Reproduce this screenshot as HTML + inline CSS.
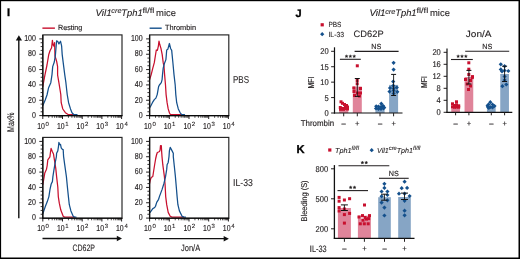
<!DOCTYPE html>
<html><head><meta charset="utf-8"><style>
html,body{margin:0;padding:0;background:#fff;}
body{width:520px;height:259px;overflow:hidden;}
svg{display:block;font-family:"Liberation Sans", sans-serif;will-change:transform;text-rendering:geometricPrecision;font-variant-ligatures:none;} text{stroke:#231f20;stroke-width:0.15px;} .lt{stroke-width:0.1px;} .nt{stroke-width:0;} .pl{stroke:#000;stroke-width:0.35px;}
</style></head><body>
<svg width="520" height="259" viewBox="0 0 520 259" xmlns="http://www.w3.org/2000/svg">
<rect width="520" height="259" fill="#fff"/>
<rect x="0" y="0" width="520" height="1.2" fill="#000"/>
<rect x="0" y="0" width="1.1" height="259" fill="#000"/>
<rect x="518.5" y="0" width="1.5" height="259" fill="#000"/>
<rect x="0" y="257.5" width="520" height="1.5" fill="#000"/>
<text x="7.10" y="15.90" font-size="11.0" fill="#000" class="pl" font-weight="bold">I</text>
<text x="295.50" y="16.80" font-size="11.0" fill="#000" class="pl" font-weight="bold">J</text>
<text x="296.60" y="152.60" font-size="11.2" fill="#000" class="pl" font-weight="bold">K</text>
<text x="95.50" y="16.00" font-size="9.3" fill="#231f20" class="lt" textLength="16.2" lengthAdjust="spacingAndGlyphs" font-style="italic">Vil1</text>
<text x="111.30" y="13.10" font-size="7.0" fill="#231f20" class="lt" textLength="10.2" lengthAdjust="spacingAndGlyphs" font-style="italic">cre</text>
<text x="121.30" y="16.00" font-size="9.3" fill="#231f20" class="lt" textLength="21.4" lengthAdjust="spacingAndGlyphs" font-style="italic">Tph1</text>
<text x="142.50" y="12.70" font-size="7.6" fill="#231f20" class="lt" textLength="11.9" lengthAdjust="spacingAndGlyphs">fl/fl</text>
<text x="156.10" y="16.00" font-size="9.3" fill="#231f20" class="lt" textLength="19.9" lengthAdjust="spacingAndGlyphs">mice</text>
<text x="369.40" y="16.40" font-size="9.3" fill="#231f20" class="lt" textLength="16.2" lengthAdjust="spacingAndGlyphs" font-style="italic">Vil1</text>
<text x="385.20" y="13.50" font-size="7.0" fill="#231f20" class="lt" textLength="10.2" lengthAdjust="spacingAndGlyphs" font-style="italic">cre</text>
<text x="395.20" y="16.40" font-size="9.3" fill="#231f20" class="lt" textLength="21.4" lengthAdjust="spacingAndGlyphs" font-style="italic">Tph1</text>
<text x="416.40" y="13.10" font-size="7.6" fill="#231f20" class="lt" textLength="11.9" lengthAdjust="spacingAndGlyphs">fl/fl</text>
<text x="430.00" y="16.40" font-size="9.3" fill="#231f20" class="lt" textLength="19.9" lengthAdjust="spacingAndGlyphs">mice</text>
<line x1="42.40" y1="28.15" x2="54.90" y2="28.15" stroke="#c8102e" stroke-width="1.4"/>
<text x="58.00" y="30.00" font-size="7.4" fill="#231f20" textLength="24.3" lengthAdjust="spacingAndGlyphs">Resting</text>
<line x1="149.60" y1="28.20" x2="161.70" y2="28.20" stroke="#14508c" stroke-width="1.4"/>
<text x="164.90" y="30.00" font-size="7.4" fill="#231f20" textLength="31.1" lengthAdjust="spacingAndGlyphs">Thrombin</text>
<polyline points="42.80,86.50 44.00,80.00 45.00,74.60 47.00,65.00 48.70,54.80 50.00,50.80 51.60,47.70 52.40,40.40 53.10,45.00 53.90,46.20 54.60,42.70 55.00,56.00 56.60,61.20 57.60,66.60 57.60,75.00 58.90,82.70 60.80,94.50 61.20,102.70 62.80,109.00 65.40,112.70 68.50,114.70 70.50,114.60 75.00,114.60" fill="none" stroke="#c8102e" stroke-width="1.25" stroke-linejoin="round" stroke-linecap="round"/>
<polyline points="42.80,105.50 45.20,100.00 47.00,95.00 48.50,88.10 50.80,82.70 52.00,74.60 52.70,66.60 54.30,62.00 55.40,55.00 56.60,40.80 57.80,41.60 58.90,43.90 60.50,41.20 61.60,45.80 62.20,54.60 63.20,62.70 64.70,74.30 65.90,82.70 67.20,94.50 68.60,102.70 70.50,108.90 72.00,112.70 73.90,114.70 75.50,114.60 77.00,114.70" fill="none" stroke="#14508c" stroke-width="1.25" stroke-linejoin="round" stroke-linecap="round"/>
<rect x="42.80" y="34.90" width="79.2" height="80.70" fill="none" stroke="#222" stroke-width="1.15"/>
<line x1="39.30" y1="115.60" x2="42.80" y2="115.60" stroke="#231f20" stroke-width="1.0"/>
<text x="35.90" y="117.85" font-size="8.6" fill="#231f20" text-anchor="end" textLength="3.92" lengthAdjust="spacingAndGlyphs">0</text>
<line x1="40.60" y1="111.77" x2="42.80" y2="111.77" stroke="#231f20" stroke-width="0.9"/>
<line x1="40.60" y1="107.93" x2="42.80" y2="107.93" stroke="#231f20" stroke-width="0.9"/>
<line x1="40.60" y1="104.09" x2="42.80" y2="104.09" stroke="#231f20" stroke-width="0.9"/>
<line x1="39.30" y1="100.26" x2="42.80" y2="100.26" stroke="#231f20" stroke-width="1.0"/>
<text x="35.90" y="102.51" font-size="8.6" fill="#231f20" text-anchor="end" textLength="7.84" lengthAdjust="spacingAndGlyphs">20</text>
<line x1="40.60" y1="96.42" x2="42.80" y2="96.42" stroke="#231f20" stroke-width="0.9"/>
<line x1="40.60" y1="92.59" x2="42.80" y2="92.59" stroke="#231f20" stroke-width="0.9"/>
<line x1="40.60" y1="88.75" x2="42.80" y2="88.75" stroke="#231f20" stroke-width="0.9"/>
<line x1="39.30" y1="84.92" x2="42.80" y2="84.92" stroke="#231f20" stroke-width="1.0"/>
<text x="35.90" y="87.17" font-size="8.6" fill="#231f20" text-anchor="end" textLength="7.84" lengthAdjust="spacingAndGlyphs">40</text>
<line x1="40.60" y1="81.08" x2="42.80" y2="81.08" stroke="#231f20" stroke-width="0.9"/>
<line x1="40.60" y1="77.25" x2="42.80" y2="77.25" stroke="#231f20" stroke-width="0.9"/>
<line x1="40.60" y1="73.41" x2="42.80" y2="73.41" stroke="#231f20" stroke-width="0.9"/>
<line x1="39.30" y1="69.58" x2="42.80" y2="69.58" stroke="#231f20" stroke-width="1.0"/>
<text x="35.90" y="71.83" font-size="8.6" fill="#231f20" text-anchor="end" textLength="7.84" lengthAdjust="spacingAndGlyphs">60</text>
<line x1="40.60" y1="65.74" x2="42.80" y2="65.74" stroke="#231f20" stroke-width="0.9"/>
<line x1="40.60" y1="61.91" x2="42.80" y2="61.91" stroke="#231f20" stroke-width="0.9"/>
<line x1="40.60" y1="58.07" x2="42.80" y2="58.07" stroke="#231f20" stroke-width="0.9"/>
<line x1="39.30" y1="54.24" x2="42.80" y2="54.24" stroke="#231f20" stroke-width="1.0"/>
<text x="35.90" y="56.49" font-size="8.6" fill="#231f20" text-anchor="end" textLength="7.84" lengthAdjust="spacingAndGlyphs">80</text>
<line x1="40.60" y1="50.40" x2="42.80" y2="50.40" stroke="#231f20" stroke-width="0.9"/>
<line x1="40.60" y1="46.57" x2="42.80" y2="46.57" stroke="#231f20" stroke-width="0.9"/>
<line x1="40.60" y1="42.73" x2="42.80" y2="42.73" stroke="#231f20" stroke-width="0.9"/>
<line x1="39.30" y1="38.90" x2="42.80" y2="38.90" stroke="#231f20" stroke-width="1.0"/>
<text x="35.90" y="41.15" font-size="8.6" fill="#231f20" text-anchor="end" textLength="11.76" lengthAdjust="spacingAndGlyphs">100</text>
<line x1="42.80" y1="115.60" x2="42.80" y2="119.00" stroke="#231f20" stroke-width="1.0"/>
<line x1="48.73" y1="115.60" x2="48.73" y2="117.80" stroke="#231f20" stroke-width="0.8"/>
<line x1="52.20" y1="115.60" x2="52.20" y2="117.80" stroke="#231f20" stroke-width="0.8"/>
<line x1="54.66" y1="115.60" x2="54.66" y2="117.80" stroke="#231f20" stroke-width="0.8"/>
<line x1="56.57" y1="115.60" x2="56.57" y2="117.80" stroke="#231f20" stroke-width="0.8"/>
<line x1="58.13" y1="115.60" x2="58.13" y2="117.80" stroke="#231f20" stroke-width="0.8"/>
<line x1="59.45" y1="115.60" x2="59.45" y2="117.80" stroke="#231f20" stroke-width="0.8"/>
<line x1="60.59" y1="115.60" x2="60.59" y2="117.80" stroke="#231f20" stroke-width="0.8"/>
<line x1="61.60" y1="115.60" x2="61.60" y2="117.80" stroke="#231f20" stroke-width="0.8"/>
<text x="37.20" y="128.80" font-size="8.6" fill="#231f20" textLength="7.7" lengthAdjust="spacingAndGlyphs">10</text>
<text x="45.60" y="125.50" font-size="6.0" fill="#231f20" class="lt">0</text>
<line x1="62.50" y1="115.60" x2="62.50" y2="119.00" stroke="#231f20" stroke-width="1.0"/>
<line x1="68.43" y1="115.60" x2="68.43" y2="117.80" stroke="#231f20" stroke-width="0.8"/>
<line x1="71.90" y1="115.60" x2="71.90" y2="117.80" stroke="#231f20" stroke-width="0.8"/>
<line x1="74.36" y1="115.60" x2="74.36" y2="117.80" stroke="#231f20" stroke-width="0.8"/>
<line x1="76.27" y1="115.60" x2="76.27" y2="117.80" stroke="#231f20" stroke-width="0.8"/>
<line x1="77.83" y1="115.60" x2="77.83" y2="117.80" stroke="#231f20" stroke-width="0.8"/>
<line x1="79.15" y1="115.60" x2="79.15" y2="117.80" stroke="#231f20" stroke-width="0.8"/>
<line x1="80.29" y1="115.60" x2="80.29" y2="117.80" stroke="#231f20" stroke-width="0.8"/>
<line x1="81.30" y1="115.60" x2="81.30" y2="117.80" stroke="#231f20" stroke-width="0.8"/>
<text x="56.90" y="128.80" font-size="8.6" fill="#231f20" textLength="7.7" lengthAdjust="spacingAndGlyphs">10</text>
<text x="65.30" y="125.50" font-size="6.0" fill="#231f20" class="lt">1</text>
<line x1="82.20" y1="115.60" x2="82.20" y2="119.00" stroke="#231f20" stroke-width="1.0"/>
<line x1="88.13" y1="115.60" x2="88.13" y2="117.80" stroke="#231f20" stroke-width="0.8"/>
<line x1="91.60" y1="115.60" x2="91.60" y2="117.80" stroke="#231f20" stroke-width="0.8"/>
<line x1="94.06" y1="115.60" x2="94.06" y2="117.80" stroke="#231f20" stroke-width="0.8"/>
<line x1="95.97" y1="115.60" x2="95.97" y2="117.80" stroke="#231f20" stroke-width="0.8"/>
<line x1="97.53" y1="115.60" x2="97.53" y2="117.80" stroke="#231f20" stroke-width="0.8"/>
<line x1="98.85" y1="115.60" x2="98.85" y2="117.80" stroke="#231f20" stroke-width="0.8"/>
<line x1="99.99" y1="115.60" x2="99.99" y2="117.80" stroke="#231f20" stroke-width="0.8"/>
<line x1="101.00" y1="115.60" x2="101.00" y2="117.80" stroke="#231f20" stroke-width="0.8"/>
<text x="76.60" y="128.80" font-size="8.6" fill="#231f20" textLength="7.7" lengthAdjust="spacingAndGlyphs">10</text>
<text x="85.00" y="125.50" font-size="6.0" fill="#231f20" class="lt">2</text>
<line x1="101.90" y1="115.60" x2="101.90" y2="119.00" stroke="#231f20" stroke-width="1.0"/>
<line x1="107.83" y1="115.60" x2="107.83" y2="117.80" stroke="#231f20" stroke-width="0.8"/>
<line x1="111.30" y1="115.60" x2="111.30" y2="117.80" stroke="#231f20" stroke-width="0.8"/>
<line x1="113.76" y1="115.60" x2="113.76" y2="117.80" stroke="#231f20" stroke-width="0.8"/>
<line x1="115.67" y1="115.60" x2="115.67" y2="117.80" stroke="#231f20" stroke-width="0.8"/>
<line x1="117.23" y1="115.60" x2="117.23" y2="117.80" stroke="#231f20" stroke-width="0.8"/>
<line x1="118.55" y1="115.60" x2="118.55" y2="117.80" stroke="#231f20" stroke-width="0.8"/>
<line x1="119.69" y1="115.60" x2="119.69" y2="117.80" stroke="#231f20" stroke-width="0.8"/>
<line x1="120.70" y1="115.60" x2="120.70" y2="117.80" stroke="#231f20" stroke-width="0.8"/>
<text x="96.30" y="128.80" font-size="8.6" fill="#231f20" textLength="7.7" lengthAdjust="spacingAndGlyphs">10</text>
<text x="104.70" y="125.50" font-size="6.0" fill="#231f20" class="lt">3</text>
<line x1="121.60" y1="115.60" x2="121.60" y2="119.00" stroke="#231f20" stroke-width="1.0"/>
<text x="116.00" y="128.80" font-size="8.6" fill="#231f20" textLength="7.7" lengthAdjust="spacingAndGlyphs">10</text>
<text x="124.40" y="125.50" font-size="6.0" fill="#231f20" class="lt">4</text>
<line x1="42.80" y1="34.90" x2="42.80" y2="116.10" stroke="#111" stroke-width="1.3"/>
<line x1="42.30" y1="115.80" x2="122.50" y2="115.80" stroke="#000" stroke-width="1.1"/>
<polyline points="149.60,79.50 151.20,74.60 152.80,68.10 154.30,62.70 155.50,55.00 156.30,50.00 157.40,50.40 158.40,45.80 159.00,41.20 159.70,44.30 160.90,48.10 162.20,54.60 163.20,62.70 164.00,66.60 164.60,74.60 165.50,85.00 166.10,94.60 167.10,102.70 168.20,108.90 169.50,113.00 170.50,114.70 172.00,114.60 182.50,114.60" fill="none" stroke="#c8102e" stroke-width="1.25" stroke-linejoin="round" stroke-linecap="round"/>
<polyline points="149.60,107.60 150.50,106.60 152.40,102.70 154.30,99.60 155.90,98.10 157.20,94.60 158.60,86.60 159.40,85.00 161.30,82.70 162.10,79.60 162.50,74.60 163.20,68.10 164.40,63.50 165.90,59.60 166.30,55.00 166.70,50.00 167.80,49.30 169.40,43.50 170.60,48.50 171.70,50.40 172.10,54.60 172.90,62.70 174.00,74.60 175.20,85.00 175.80,94.60 176.70,102.70 178.30,108.90 180.20,112.80 181.70,114.70 183.00,114.60 184.50,114.70" fill="none" stroke="#14508c" stroke-width="1.25" stroke-linejoin="round" stroke-linecap="round"/>
<rect x="149.60" y="34.90" width="79.2" height="80.70" fill="none" stroke="#222" stroke-width="1.15"/>
<line x1="146.10" y1="115.60" x2="149.60" y2="115.60" stroke="#231f20" stroke-width="1.0"/>
<text x="142.70" y="117.85" font-size="8.6" fill="#231f20" text-anchor="end" textLength="3.92" lengthAdjust="spacingAndGlyphs">0</text>
<line x1="147.40" y1="111.77" x2="149.60" y2="111.77" stroke="#231f20" stroke-width="0.9"/>
<line x1="147.40" y1="107.93" x2="149.60" y2="107.93" stroke="#231f20" stroke-width="0.9"/>
<line x1="147.40" y1="104.09" x2="149.60" y2="104.09" stroke="#231f20" stroke-width="0.9"/>
<line x1="146.10" y1="100.26" x2="149.60" y2="100.26" stroke="#231f20" stroke-width="1.0"/>
<text x="142.70" y="102.51" font-size="8.6" fill="#231f20" text-anchor="end" textLength="7.84" lengthAdjust="spacingAndGlyphs">20</text>
<line x1="147.40" y1="96.42" x2="149.60" y2="96.42" stroke="#231f20" stroke-width="0.9"/>
<line x1="147.40" y1="92.59" x2="149.60" y2="92.59" stroke="#231f20" stroke-width="0.9"/>
<line x1="147.40" y1="88.75" x2="149.60" y2="88.75" stroke="#231f20" stroke-width="0.9"/>
<line x1="146.10" y1="84.92" x2="149.60" y2="84.92" stroke="#231f20" stroke-width="1.0"/>
<text x="142.70" y="87.17" font-size="8.6" fill="#231f20" text-anchor="end" textLength="7.84" lengthAdjust="spacingAndGlyphs">40</text>
<line x1="147.40" y1="81.08" x2="149.60" y2="81.08" stroke="#231f20" stroke-width="0.9"/>
<line x1="147.40" y1="77.25" x2="149.60" y2="77.25" stroke="#231f20" stroke-width="0.9"/>
<line x1="147.40" y1="73.41" x2="149.60" y2="73.41" stroke="#231f20" stroke-width="0.9"/>
<line x1="146.10" y1="69.58" x2="149.60" y2="69.58" stroke="#231f20" stroke-width="1.0"/>
<text x="142.70" y="71.83" font-size="8.6" fill="#231f20" text-anchor="end" textLength="7.84" lengthAdjust="spacingAndGlyphs">60</text>
<line x1="147.40" y1="65.74" x2="149.60" y2="65.74" stroke="#231f20" stroke-width="0.9"/>
<line x1="147.40" y1="61.91" x2="149.60" y2="61.91" stroke="#231f20" stroke-width="0.9"/>
<line x1="147.40" y1="58.07" x2="149.60" y2="58.07" stroke="#231f20" stroke-width="0.9"/>
<line x1="146.10" y1="54.24" x2="149.60" y2="54.24" stroke="#231f20" stroke-width="1.0"/>
<text x="142.70" y="56.49" font-size="8.6" fill="#231f20" text-anchor="end" textLength="7.84" lengthAdjust="spacingAndGlyphs">80</text>
<line x1="147.40" y1="50.40" x2="149.60" y2="50.40" stroke="#231f20" stroke-width="0.9"/>
<line x1="147.40" y1="46.57" x2="149.60" y2="46.57" stroke="#231f20" stroke-width="0.9"/>
<line x1="147.40" y1="42.73" x2="149.60" y2="42.73" stroke="#231f20" stroke-width="0.9"/>
<line x1="146.10" y1="38.90" x2="149.60" y2="38.90" stroke="#231f20" stroke-width="1.0"/>
<text x="142.70" y="41.15" font-size="8.6" fill="#231f20" text-anchor="end" textLength="11.76" lengthAdjust="spacingAndGlyphs">100</text>
<line x1="149.60" y1="115.60" x2="149.60" y2="119.00" stroke="#231f20" stroke-width="1.0"/>
<line x1="155.53" y1="115.60" x2="155.53" y2="117.80" stroke="#231f20" stroke-width="0.8"/>
<line x1="159.00" y1="115.60" x2="159.00" y2="117.80" stroke="#231f20" stroke-width="0.8"/>
<line x1="161.46" y1="115.60" x2="161.46" y2="117.80" stroke="#231f20" stroke-width="0.8"/>
<line x1="163.37" y1="115.60" x2="163.37" y2="117.80" stroke="#231f20" stroke-width="0.8"/>
<line x1="164.93" y1="115.60" x2="164.93" y2="117.80" stroke="#231f20" stroke-width="0.8"/>
<line x1="166.25" y1="115.60" x2="166.25" y2="117.80" stroke="#231f20" stroke-width="0.8"/>
<line x1="167.39" y1="115.60" x2="167.39" y2="117.80" stroke="#231f20" stroke-width="0.8"/>
<line x1="168.40" y1="115.60" x2="168.40" y2="117.80" stroke="#231f20" stroke-width="0.8"/>
<text x="144.00" y="128.80" font-size="8.6" fill="#231f20" textLength="7.7" lengthAdjust="spacingAndGlyphs">10</text>
<text x="152.40" y="125.50" font-size="6.0" fill="#231f20" class="lt">0</text>
<line x1="169.30" y1="115.60" x2="169.30" y2="119.00" stroke="#231f20" stroke-width="1.0"/>
<line x1="175.23" y1="115.60" x2="175.23" y2="117.80" stroke="#231f20" stroke-width="0.8"/>
<line x1="178.70" y1="115.60" x2="178.70" y2="117.80" stroke="#231f20" stroke-width="0.8"/>
<line x1="181.16" y1="115.60" x2="181.16" y2="117.80" stroke="#231f20" stroke-width="0.8"/>
<line x1="183.07" y1="115.60" x2="183.07" y2="117.80" stroke="#231f20" stroke-width="0.8"/>
<line x1="184.63" y1="115.60" x2="184.63" y2="117.80" stroke="#231f20" stroke-width="0.8"/>
<line x1="185.95" y1="115.60" x2="185.95" y2="117.80" stroke="#231f20" stroke-width="0.8"/>
<line x1="187.09" y1="115.60" x2="187.09" y2="117.80" stroke="#231f20" stroke-width="0.8"/>
<line x1="188.10" y1="115.60" x2="188.10" y2="117.80" stroke="#231f20" stroke-width="0.8"/>
<text x="163.70" y="128.80" font-size="8.6" fill="#231f20" textLength="7.7" lengthAdjust="spacingAndGlyphs">10</text>
<text x="172.10" y="125.50" font-size="6.0" fill="#231f20" class="lt">1</text>
<line x1="189.00" y1="115.60" x2="189.00" y2="119.00" stroke="#231f20" stroke-width="1.0"/>
<line x1="194.93" y1="115.60" x2="194.93" y2="117.80" stroke="#231f20" stroke-width="0.8"/>
<line x1="198.40" y1="115.60" x2="198.40" y2="117.80" stroke="#231f20" stroke-width="0.8"/>
<line x1="200.86" y1="115.60" x2="200.86" y2="117.80" stroke="#231f20" stroke-width="0.8"/>
<line x1="202.77" y1="115.60" x2="202.77" y2="117.80" stroke="#231f20" stroke-width="0.8"/>
<line x1="204.33" y1="115.60" x2="204.33" y2="117.80" stroke="#231f20" stroke-width="0.8"/>
<line x1="205.65" y1="115.60" x2="205.65" y2="117.80" stroke="#231f20" stroke-width="0.8"/>
<line x1="206.79" y1="115.60" x2="206.79" y2="117.80" stroke="#231f20" stroke-width="0.8"/>
<line x1="207.80" y1="115.60" x2="207.80" y2="117.80" stroke="#231f20" stroke-width="0.8"/>
<text x="183.40" y="128.80" font-size="8.6" fill="#231f20" textLength="7.7" lengthAdjust="spacingAndGlyphs">10</text>
<text x="191.80" y="125.50" font-size="6.0" fill="#231f20" class="lt">2</text>
<line x1="208.70" y1="115.60" x2="208.70" y2="119.00" stroke="#231f20" stroke-width="1.0"/>
<line x1="214.63" y1="115.60" x2="214.63" y2="117.80" stroke="#231f20" stroke-width="0.8"/>
<line x1="218.10" y1="115.60" x2="218.10" y2="117.80" stroke="#231f20" stroke-width="0.8"/>
<line x1="220.56" y1="115.60" x2="220.56" y2="117.80" stroke="#231f20" stroke-width="0.8"/>
<line x1="222.47" y1="115.60" x2="222.47" y2="117.80" stroke="#231f20" stroke-width="0.8"/>
<line x1="224.03" y1="115.60" x2="224.03" y2="117.80" stroke="#231f20" stroke-width="0.8"/>
<line x1="225.35" y1="115.60" x2="225.35" y2="117.80" stroke="#231f20" stroke-width="0.8"/>
<line x1="226.49" y1="115.60" x2="226.49" y2="117.80" stroke="#231f20" stroke-width="0.8"/>
<line x1="227.50" y1="115.60" x2="227.50" y2="117.80" stroke="#231f20" stroke-width="0.8"/>
<text x="203.10" y="128.80" font-size="8.6" fill="#231f20" textLength="7.7" lengthAdjust="spacingAndGlyphs">10</text>
<text x="211.50" y="125.50" font-size="6.0" fill="#231f20" class="lt">3</text>
<line x1="228.40" y1="115.60" x2="228.40" y2="119.00" stroke="#231f20" stroke-width="1.0"/>
<text x="222.80" y="128.80" font-size="8.6" fill="#231f20" textLength="7.7" lengthAdjust="spacingAndGlyphs">10</text>
<text x="231.20" y="125.50" font-size="6.0" fill="#231f20" class="lt">4</text>
<line x1="149.60" y1="34.90" x2="149.60" y2="116.10" stroke="#111" stroke-width="1.3"/>
<line x1="149.10" y1="115.80" x2="229.30" y2="115.80" stroke="#000" stroke-width="1.1"/>
<polyline points="42.80,184.50 43.80,179.00 44.80,173.00 46.50,169.20 47.20,165.50 47.80,159.80 49.00,158.20 49.90,156.80 50.50,152.00 51.10,148.40 52.40,151.70 53.50,154.00 53.90,156.60 54.70,161.60 55.80,168.60 56.60,176.60 57.80,187.00 58.30,196.60 59.30,203.20 60.80,210.10 63.20,216.30 64.50,217.10 74.00,217.10" fill="none" stroke="#c8102e" stroke-width="1.25" stroke-linejoin="round" stroke-linecap="round"/>
<polyline points="42.80,213.80 44.00,210.30 45.40,206.30 47.30,201.60 48.90,196.60 50.00,189.40 51.20,184.00 52.40,181.60 52.90,176.60 53.90,170.10 55.10,163.20 56.40,156.60 56.60,153.20 57.80,150.90 58.50,146.30 58.90,142.40 59.70,144.70 60.50,144.30 61.20,147.80 62.40,149.40 63.20,149.70 63.60,156.60 64.70,164.70 66.40,176.60 67.40,187.00 68.40,196.60 69.30,204.70 70.90,210.90 73.20,216.30 74.50,217.10 76.00,217.20" fill="none" stroke="#14508c" stroke-width="1.25" stroke-linejoin="round" stroke-linecap="round"/>
<rect x="42.80" y="137.40" width="79.2" height="80.70" fill="none" stroke="#222" stroke-width="1.15"/>
<line x1="39.30" y1="218.10" x2="42.80" y2="218.10" stroke="#231f20" stroke-width="1.0"/>
<text x="35.90" y="220.35" font-size="8.6" fill="#231f20" text-anchor="end" textLength="3.92" lengthAdjust="spacingAndGlyphs">0</text>
<line x1="40.60" y1="214.26" x2="42.80" y2="214.26" stroke="#231f20" stroke-width="0.9"/>
<line x1="40.60" y1="210.43" x2="42.80" y2="210.43" stroke="#231f20" stroke-width="0.9"/>
<line x1="40.60" y1="206.59" x2="42.80" y2="206.59" stroke="#231f20" stroke-width="0.9"/>
<line x1="39.30" y1="202.76" x2="42.80" y2="202.76" stroke="#231f20" stroke-width="1.0"/>
<text x="35.90" y="205.01" font-size="8.6" fill="#231f20" text-anchor="end" textLength="7.84" lengthAdjust="spacingAndGlyphs">20</text>
<line x1="40.60" y1="198.92" x2="42.80" y2="198.92" stroke="#231f20" stroke-width="0.9"/>
<line x1="40.60" y1="195.09" x2="42.80" y2="195.09" stroke="#231f20" stroke-width="0.9"/>
<line x1="40.60" y1="191.25" x2="42.80" y2="191.25" stroke="#231f20" stroke-width="0.9"/>
<line x1="39.30" y1="187.42" x2="42.80" y2="187.42" stroke="#231f20" stroke-width="1.0"/>
<text x="35.90" y="189.67" font-size="8.6" fill="#231f20" text-anchor="end" textLength="7.84" lengthAdjust="spacingAndGlyphs">40</text>
<line x1="40.60" y1="183.58" x2="42.80" y2="183.58" stroke="#231f20" stroke-width="0.9"/>
<line x1="40.60" y1="179.75" x2="42.80" y2="179.75" stroke="#231f20" stroke-width="0.9"/>
<line x1="40.60" y1="175.91" x2="42.80" y2="175.91" stroke="#231f20" stroke-width="0.9"/>
<line x1="39.30" y1="172.08" x2="42.80" y2="172.08" stroke="#231f20" stroke-width="1.0"/>
<text x="35.90" y="174.33" font-size="8.6" fill="#231f20" text-anchor="end" textLength="7.84" lengthAdjust="spacingAndGlyphs">60</text>
<line x1="40.60" y1="168.25" x2="42.80" y2="168.25" stroke="#231f20" stroke-width="0.9"/>
<line x1="40.60" y1="164.41" x2="42.80" y2="164.41" stroke="#231f20" stroke-width="0.9"/>
<line x1="40.60" y1="160.57" x2="42.80" y2="160.57" stroke="#231f20" stroke-width="0.9"/>
<line x1="39.30" y1="156.74" x2="42.80" y2="156.74" stroke="#231f20" stroke-width="1.0"/>
<text x="35.90" y="158.99" font-size="8.6" fill="#231f20" text-anchor="end" textLength="7.84" lengthAdjust="spacingAndGlyphs">80</text>
<line x1="40.60" y1="152.90" x2="42.80" y2="152.90" stroke="#231f20" stroke-width="0.9"/>
<line x1="40.60" y1="149.07" x2="42.80" y2="149.07" stroke="#231f20" stroke-width="0.9"/>
<line x1="40.60" y1="145.24" x2="42.80" y2="145.24" stroke="#231f20" stroke-width="0.9"/>
<line x1="39.30" y1="141.40" x2="42.80" y2="141.40" stroke="#231f20" stroke-width="1.0"/>
<text x="35.90" y="143.65" font-size="8.6" fill="#231f20" text-anchor="end" textLength="11.76" lengthAdjust="spacingAndGlyphs">100</text>
<line x1="42.80" y1="218.10" x2="42.80" y2="221.50" stroke="#231f20" stroke-width="1.0"/>
<line x1="48.73" y1="218.10" x2="48.73" y2="220.30" stroke="#231f20" stroke-width="0.8"/>
<line x1="52.20" y1="218.10" x2="52.20" y2="220.30" stroke="#231f20" stroke-width="0.8"/>
<line x1="54.66" y1="218.10" x2="54.66" y2="220.30" stroke="#231f20" stroke-width="0.8"/>
<line x1="56.57" y1="218.10" x2="56.57" y2="220.30" stroke="#231f20" stroke-width="0.8"/>
<line x1="58.13" y1="218.10" x2="58.13" y2="220.30" stroke="#231f20" stroke-width="0.8"/>
<line x1="59.45" y1="218.10" x2="59.45" y2="220.30" stroke="#231f20" stroke-width="0.8"/>
<line x1="60.59" y1="218.10" x2="60.59" y2="220.30" stroke="#231f20" stroke-width="0.8"/>
<line x1="61.60" y1="218.10" x2="61.60" y2="220.30" stroke="#231f20" stroke-width="0.8"/>
<text x="37.20" y="231.30" font-size="8.6" fill="#231f20" textLength="7.7" lengthAdjust="spacingAndGlyphs">10</text>
<text x="45.60" y="228.00" font-size="6.0" fill="#231f20" class="lt">0</text>
<line x1="62.50" y1="218.10" x2="62.50" y2="221.50" stroke="#231f20" stroke-width="1.0"/>
<line x1="68.43" y1="218.10" x2="68.43" y2="220.30" stroke="#231f20" stroke-width="0.8"/>
<line x1="71.90" y1="218.10" x2="71.90" y2="220.30" stroke="#231f20" stroke-width="0.8"/>
<line x1="74.36" y1="218.10" x2="74.36" y2="220.30" stroke="#231f20" stroke-width="0.8"/>
<line x1="76.27" y1="218.10" x2="76.27" y2="220.30" stroke="#231f20" stroke-width="0.8"/>
<line x1="77.83" y1="218.10" x2="77.83" y2="220.30" stroke="#231f20" stroke-width="0.8"/>
<line x1="79.15" y1="218.10" x2="79.15" y2="220.30" stroke="#231f20" stroke-width="0.8"/>
<line x1="80.29" y1="218.10" x2="80.29" y2="220.30" stroke="#231f20" stroke-width="0.8"/>
<line x1="81.30" y1="218.10" x2="81.30" y2="220.30" stroke="#231f20" stroke-width="0.8"/>
<text x="56.90" y="231.30" font-size="8.6" fill="#231f20" textLength="7.7" lengthAdjust="spacingAndGlyphs">10</text>
<text x="65.30" y="228.00" font-size="6.0" fill="#231f20" class="lt">1</text>
<line x1="82.20" y1="218.10" x2="82.20" y2="221.50" stroke="#231f20" stroke-width="1.0"/>
<line x1="88.13" y1="218.10" x2="88.13" y2="220.30" stroke="#231f20" stroke-width="0.8"/>
<line x1="91.60" y1="218.10" x2="91.60" y2="220.30" stroke="#231f20" stroke-width="0.8"/>
<line x1="94.06" y1="218.10" x2="94.06" y2="220.30" stroke="#231f20" stroke-width="0.8"/>
<line x1="95.97" y1="218.10" x2="95.97" y2="220.30" stroke="#231f20" stroke-width="0.8"/>
<line x1="97.53" y1="218.10" x2="97.53" y2="220.30" stroke="#231f20" stroke-width="0.8"/>
<line x1="98.85" y1="218.10" x2="98.85" y2="220.30" stroke="#231f20" stroke-width="0.8"/>
<line x1="99.99" y1="218.10" x2="99.99" y2="220.30" stroke="#231f20" stroke-width="0.8"/>
<line x1="101.00" y1="218.10" x2="101.00" y2="220.30" stroke="#231f20" stroke-width="0.8"/>
<text x="76.60" y="231.30" font-size="8.6" fill="#231f20" textLength="7.7" lengthAdjust="spacingAndGlyphs">10</text>
<text x="85.00" y="228.00" font-size="6.0" fill="#231f20" class="lt">2</text>
<line x1="101.90" y1="218.10" x2="101.90" y2="221.50" stroke="#231f20" stroke-width="1.0"/>
<line x1="107.83" y1="218.10" x2="107.83" y2="220.30" stroke="#231f20" stroke-width="0.8"/>
<line x1="111.30" y1="218.10" x2="111.30" y2="220.30" stroke="#231f20" stroke-width="0.8"/>
<line x1="113.76" y1="218.10" x2="113.76" y2="220.30" stroke="#231f20" stroke-width="0.8"/>
<line x1="115.67" y1="218.10" x2="115.67" y2="220.30" stroke="#231f20" stroke-width="0.8"/>
<line x1="117.23" y1="218.10" x2="117.23" y2="220.30" stroke="#231f20" stroke-width="0.8"/>
<line x1="118.55" y1="218.10" x2="118.55" y2="220.30" stroke="#231f20" stroke-width="0.8"/>
<line x1="119.69" y1="218.10" x2="119.69" y2="220.30" stroke="#231f20" stroke-width="0.8"/>
<line x1="120.70" y1="218.10" x2="120.70" y2="220.30" stroke="#231f20" stroke-width="0.8"/>
<text x="96.30" y="231.30" font-size="8.6" fill="#231f20" textLength="7.7" lengthAdjust="spacingAndGlyphs">10</text>
<text x="104.70" y="228.00" font-size="6.0" fill="#231f20" class="lt">3</text>
<line x1="121.60" y1="218.10" x2="121.60" y2="221.50" stroke="#231f20" stroke-width="1.0"/>
<text x="116.00" y="231.30" font-size="8.6" fill="#231f20" textLength="7.7" lengthAdjust="spacingAndGlyphs">10</text>
<text x="124.40" y="228.00" font-size="6.0" fill="#231f20" class="lt">4</text>
<line x1="42.80" y1="137.40" x2="42.80" y2="218.60" stroke="#111" stroke-width="1.3"/>
<line x1="42.30" y1="218.30" x2="122.50" y2="218.30" stroke="#000" stroke-width="1.1"/>
<polyline points="149.60,183.40 150.30,180.00 151.20,177.50 152.80,176.50 153.50,172.00 154.60,165.00 155.70,158.50 156.50,155.00 157.30,152.50 158.50,152.00 159.50,151.50 160.10,150.00 160.50,145.50 161.30,145.50 161.70,152.40 162.00,156.60 162.80,164.70 164.40,176.60 165.10,184.70 165.70,196.60 166.70,204.70 168.20,212.40 170.20,216.30 172.00,217.10 183.50,217.10" fill="none" stroke="#c8102e" stroke-width="1.25" stroke-linejoin="round" stroke-linecap="round"/>
<polyline points="149.60,212.60 150.10,212.40 151.20,210.90 152.80,208.60 154.30,207.80 155.50,206.30 156.70,202.40 158.60,199.30 159.40,196.60 162.10,189.40 164.00,183.20 165.50,176.90 166.70,169.40 167.10,164.70 168.20,162.40 169.00,156.60 169.40,150.90 170.20,147.40 170.90,148.60 172.10,150.90 173.30,153.20 173.30,156.60 174.40,167.00 175.40,176.60 176.30,187.00 177.10,196.60 177.90,204.70 179.40,210.90 182.10,216.30 184.00,217.10 185.50,217.20" fill="none" stroke="#14508c" stroke-width="1.25" stroke-linejoin="round" stroke-linecap="round"/>
<rect x="149.60" y="137.40" width="79.2" height="80.70" fill="none" stroke="#222" stroke-width="1.15"/>
<line x1="146.10" y1="218.10" x2="149.60" y2="218.10" stroke="#231f20" stroke-width="1.0"/>
<text x="142.70" y="220.35" font-size="8.6" fill="#231f20" text-anchor="end" textLength="3.92" lengthAdjust="spacingAndGlyphs">0</text>
<line x1="147.40" y1="214.26" x2="149.60" y2="214.26" stroke="#231f20" stroke-width="0.9"/>
<line x1="147.40" y1="210.43" x2="149.60" y2="210.43" stroke="#231f20" stroke-width="0.9"/>
<line x1="147.40" y1="206.59" x2="149.60" y2="206.59" stroke="#231f20" stroke-width="0.9"/>
<line x1="146.10" y1="202.76" x2="149.60" y2="202.76" stroke="#231f20" stroke-width="1.0"/>
<text x="142.70" y="205.01" font-size="8.6" fill="#231f20" text-anchor="end" textLength="7.84" lengthAdjust="spacingAndGlyphs">20</text>
<line x1="147.40" y1="198.92" x2="149.60" y2="198.92" stroke="#231f20" stroke-width="0.9"/>
<line x1="147.40" y1="195.09" x2="149.60" y2="195.09" stroke="#231f20" stroke-width="0.9"/>
<line x1="147.40" y1="191.25" x2="149.60" y2="191.25" stroke="#231f20" stroke-width="0.9"/>
<line x1="146.10" y1="187.42" x2="149.60" y2="187.42" stroke="#231f20" stroke-width="1.0"/>
<text x="142.70" y="189.67" font-size="8.6" fill="#231f20" text-anchor="end" textLength="7.84" lengthAdjust="spacingAndGlyphs">40</text>
<line x1="147.40" y1="183.58" x2="149.60" y2="183.58" stroke="#231f20" stroke-width="0.9"/>
<line x1="147.40" y1="179.75" x2="149.60" y2="179.75" stroke="#231f20" stroke-width="0.9"/>
<line x1="147.40" y1="175.91" x2="149.60" y2="175.91" stroke="#231f20" stroke-width="0.9"/>
<line x1="146.10" y1="172.08" x2="149.60" y2="172.08" stroke="#231f20" stroke-width="1.0"/>
<text x="142.70" y="174.33" font-size="8.6" fill="#231f20" text-anchor="end" textLength="7.84" lengthAdjust="spacingAndGlyphs">60</text>
<line x1="147.40" y1="168.25" x2="149.60" y2="168.25" stroke="#231f20" stroke-width="0.9"/>
<line x1="147.40" y1="164.41" x2="149.60" y2="164.41" stroke="#231f20" stroke-width="0.9"/>
<line x1="147.40" y1="160.57" x2="149.60" y2="160.57" stroke="#231f20" stroke-width="0.9"/>
<line x1="146.10" y1="156.74" x2="149.60" y2="156.74" stroke="#231f20" stroke-width="1.0"/>
<text x="142.70" y="158.99" font-size="8.6" fill="#231f20" text-anchor="end" textLength="7.84" lengthAdjust="spacingAndGlyphs">80</text>
<line x1="147.40" y1="152.90" x2="149.60" y2="152.90" stroke="#231f20" stroke-width="0.9"/>
<line x1="147.40" y1="149.07" x2="149.60" y2="149.07" stroke="#231f20" stroke-width="0.9"/>
<line x1="147.40" y1="145.24" x2="149.60" y2="145.24" stroke="#231f20" stroke-width="0.9"/>
<line x1="146.10" y1="141.40" x2="149.60" y2="141.40" stroke="#231f20" stroke-width="1.0"/>
<text x="142.70" y="143.65" font-size="8.6" fill="#231f20" text-anchor="end" textLength="11.76" lengthAdjust="spacingAndGlyphs">100</text>
<line x1="149.60" y1="218.10" x2="149.60" y2="221.50" stroke="#231f20" stroke-width="1.0"/>
<line x1="155.53" y1="218.10" x2="155.53" y2="220.30" stroke="#231f20" stroke-width="0.8"/>
<line x1="159.00" y1="218.10" x2="159.00" y2="220.30" stroke="#231f20" stroke-width="0.8"/>
<line x1="161.46" y1="218.10" x2="161.46" y2="220.30" stroke="#231f20" stroke-width="0.8"/>
<line x1="163.37" y1="218.10" x2="163.37" y2="220.30" stroke="#231f20" stroke-width="0.8"/>
<line x1="164.93" y1="218.10" x2="164.93" y2="220.30" stroke="#231f20" stroke-width="0.8"/>
<line x1="166.25" y1="218.10" x2="166.25" y2="220.30" stroke="#231f20" stroke-width="0.8"/>
<line x1="167.39" y1="218.10" x2="167.39" y2="220.30" stroke="#231f20" stroke-width="0.8"/>
<line x1="168.40" y1="218.10" x2="168.40" y2="220.30" stroke="#231f20" stroke-width="0.8"/>
<text x="144.00" y="231.30" font-size="8.6" fill="#231f20" textLength="7.7" lengthAdjust="spacingAndGlyphs">10</text>
<text x="152.40" y="228.00" font-size="6.0" fill="#231f20" class="lt">0</text>
<line x1="169.30" y1="218.10" x2="169.30" y2="221.50" stroke="#231f20" stroke-width="1.0"/>
<line x1="175.23" y1="218.10" x2="175.23" y2="220.30" stroke="#231f20" stroke-width="0.8"/>
<line x1="178.70" y1="218.10" x2="178.70" y2="220.30" stroke="#231f20" stroke-width="0.8"/>
<line x1="181.16" y1="218.10" x2="181.16" y2="220.30" stroke="#231f20" stroke-width="0.8"/>
<line x1="183.07" y1="218.10" x2="183.07" y2="220.30" stroke="#231f20" stroke-width="0.8"/>
<line x1="184.63" y1="218.10" x2="184.63" y2="220.30" stroke="#231f20" stroke-width="0.8"/>
<line x1="185.95" y1="218.10" x2="185.95" y2="220.30" stroke="#231f20" stroke-width="0.8"/>
<line x1="187.09" y1="218.10" x2="187.09" y2="220.30" stroke="#231f20" stroke-width="0.8"/>
<line x1="188.10" y1="218.10" x2="188.10" y2="220.30" stroke="#231f20" stroke-width="0.8"/>
<text x="163.70" y="231.30" font-size="8.6" fill="#231f20" textLength="7.7" lengthAdjust="spacingAndGlyphs">10</text>
<text x="172.10" y="228.00" font-size="6.0" fill="#231f20" class="lt">1</text>
<line x1="189.00" y1="218.10" x2="189.00" y2="221.50" stroke="#231f20" stroke-width="1.0"/>
<line x1="194.93" y1="218.10" x2="194.93" y2="220.30" stroke="#231f20" stroke-width="0.8"/>
<line x1="198.40" y1="218.10" x2="198.40" y2="220.30" stroke="#231f20" stroke-width="0.8"/>
<line x1="200.86" y1="218.10" x2="200.86" y2="220.30" stroke="#231f20" stroke-width="0.8"/>
<line x1="202.77" y1="218.10" x2="202.77" y2="220.30" stroke="#231f20" stroke-width="0.8"/>
<line x1="204.33" y1="218.10" x2="204.33" y2="220.30" stroke="#231f20" stroke-width="0.8"/>
<line x1="205.65" y1="218.10" x2="205.65" y2="220.30" stroke="#231f20" stroke-width="0.8"/>
<line x1="206.79" y1="218.10" x2="206.79" y2="220.30" stroke="#231f20" stroke-width="0.8"/>
<line x1="207.80" y1="218.10" x2="207.80" y2="220.30" stroke="#231f20" stroke-width="0.8"/>
<text x="183.40" y="231.30" font-size="8.6" fill="#231f20" textLength="7.7" lengthAdjust="spacingAndGlyphs">10</text>
<text x="191.80" y="228.00" font-size="6.0" fill="#231f20" class="lt">2</text>
<line x1="208.70" y1="218.10" x2="208.70" y2="221.50" stroke="#231f20" stroke-width="1.0"/>
<line x1="214.63" y1="218.10" x2="214.63" y2="220.30" stroke="#231f20" stroke-width="0.8"/>
<line x1="218.10" y1="218.10" x2="218.10" y2="220.30" stroke="#231f20" stroke-width="0.8"/>
<line x1="220.56" y1="218.10" x2="220.56" y2="220.30" stroke="#231f20" stroke-width="0.8"/>
<line x1="222.47" y1="218.10" x2="222.47" y2="220.30" stroke="#231f20" stroke-width="0.8"/>
<line x1="224.03" y1="218.10" x2="224.03" y2="220.30" stroke="#231f20" stroke-width="0.8"/>
<line x1="225.35" y1="218.10" x2="225.35" y2="220.30" stroke="#231f20" stroke-width="0.8"/>
<line x1="226.49" y1="218.10" x2="226.49" y2="220.30" stroke="#231f20" stroke-width="0.8"/>
<line x1="227.50" y1="218.10" x2="227.50" y2="220.30" stroke="#231f20" stroke-width="0.8"/>
<text x="203.10" y="231.30" font-size="8.6" fill="#231f20" textLength="7.7" lengthAdjust="spacingAndGlyphs">10</text>
<text x="211.50" y="228.00" font-size="6.0" fill="#231f20" class="lt">3</text>
<line x1="228.40" y1="218.10" x2="228.40" y2="221.50" stroke="#231f20" stroke-width="1.0"/>
<text x="222.80" y="231.30" font-size="8.6" fill="#231f20" textLength="7.7" lengthAdjust="spacingAndGlyphs">10</text>
<text x="231.20" y="228.00" font-size="6.0" fill="#231f20" class="lt">4</text>
<line x1="149.60" y1="137.40" x2="149.60" y2="218.60" stroke="#111" stroke-width="1.3"/>
<line x1="149.10" y1="218.30" x2="229.30" y2="218.30" stroke="#000" stroke-width="1.1"/>
<text x="233.00" y="83.20" font-size="10.0" fill="#231f20" class="lt" textLength="16.0" lengthAdjust="spacingAndGlyphs">PBS</text>
<text x="233.00" y="186.30" font-size="10.0" fill="#231f20" class="lt" textLength="19.8" lengthAdjust="spacingAndGlyphs">IL-33</text>
<text transform="translate(14.3,122.2) rotate(-90)" x="0" y="0" font-size="9.8" fill="#231f20" text-anchor="middle" textLength="19.6" lengthAdjust="spacingAndGlyphs">Max%</text>
<line x1="18.80" y1="218.20" x2="18.80" y2="39.50" stroke="#111" stroke-width="1.4"/>
<polygon points="18.9,35.2 15.8,40.6 22.0,40.6" fill="#111"/>
<line x1="42.50" y1="238.50" x2="118.00" y2="238.50" stroke="#111" stroke-width="1.3"/>
<polygon points="122.00,238.50 116.80,235.70 116.80,241.30" fill="#111"/>
<line x1="149.30" y1="238.70" x2="224.90" y2="238.70" stroke="#111" stroke-width="1.3"/>
<polygon points="228.90,238.70 223.70,235.90 223.70,241.50" fill="#111"/>
<text x="72.40" y="250.90" font-size="9.2" fill="#231f20" class="lt" textLength="22.6" lengthAdjust="spacingAndGlyphs">CD62P</text>
<text x="181.00" y="251.40" font-size="9.2" fill="#231f20" class="lt" textLength="19.2" lengthAdjust="spacingAndGlyphs">Jon/A</text>
<rect x="320.6" y="23.2" width="3.2" height="3.2" fill="#c8102e"/>
<text x="328.40" y="27.30" font-size="7.4" fill="#231f20" class="lt" textLength="12.9" lengthAdjust="spacingAndGlyphs">PBS</text>
<polygon points="322.2,32.1 324.3,34.2 322.2,36.3 320.1,34.2" fill="#14508c"/>
<text x="328.40" y="36.90" font-size="7.4" fill="#231f20" class="lt" textLength="15.8" lengthAdjust="spacingAndGlyphs">IL-33</text>
<text x="353.60" y="37.40" font-size="9.2" fill="#231f20" class="lt" textLength="30.0" lengthAdjust="spacingAndGlyphs">CD62P</text>
<text x="465.80" y="37.40" font-size="9.2" fill="#231f20" class="lt" textLength="25.8" lengthAdjust="spacingAndGlyphs">Jon/A</text>
<rect x="339.10" y="106.83" width="9.2" height="6.17" fill="#e0849a"/>
<rect x="352.80" y="86.50" width="9.0" height="26.50" fill="#e0849a"/>
<rect x="375.40" y="106.83" width="9.2" height="6.17" fill="#86a5c5"/>
<rect x="389.10" y="84.90" width="9.0" height="28.10" fill="#86a5c5"/>
<line x1="331.10" y1="113.00" x2="334.50" y2="113.00" stroke="#231f20" stroke-width="1.0"/>
<text x="328.60" y="116.00" font-size="8.4" fill="#231f20" text-anchor="end" textLength="4.2" lengthAdjust="spacingAndGlyphs">0</text>
<line x1="331.10" y1="97.58" x2="334.50" y2="97.58" stroke="#231f20" stroke-width="1.0"/>
<text x="328.60" y="100.58" font-size="8.4" fill="#231f20" text-anchor="end" textLength="4.2" lengthAdjust="spacingAndGlyphs">5</text>
<line x1="331.10" y1="82.15" x2="334.50" y2="82.15" stroke="#231f20" stroke-width="1.0"/>
<text x="328.60" y="85.15" font-size="8.4" fill="#231f20" text-anchor="end" textLength="8.41" lengthAdjust="spacingAndGlyphs">10</text>
<line x1="331.10" y1="66.72" x2="334.50" y2="66.72" stroke="#231f20" stroke-width="1.0"/>
<text x="328.60" y="69.72" font-size="8.4" fill="#231f20" text-anchor="end" textLength="8.41" lengthAdjust="spacingAndGlyphs">15</text>
<line x1="331.10" y1="51.30" x2="334.50" y2="51.30" stroke="#231f20" stroke-width="1.0"/>
<text x="328.60" y="54.30" font-size="8.4" fill="#231f20" text-anchor="end" textLength="8.41" lengthAdjust="spacingAndGlyphs">20</text>
<rect x="339.50" y="100.30" width="3.0" height="3.0" fill="#c8102e"/>
<rect x="341.00" y="101.80" width="3.0" height="3.0" fill="#c8102e"/>
<rect x="343.00" y="103.00" width="3.0" height="3.0" fill="#c8102e"/>
<rect x="345.00" y="104.00" width="3.0" height="3.0" fill="#c8102e"/>
<rect x="346.00" y="105.50" width="3.0" height="3.0" fill="#c8102e"/>
<rect x="338.80" y="106.00" width="3.0" height="3.0" fill="#c8102e"/>
<rect x="341.00" y="107.00" width="3.0" height="3.0" fill="#c8102e"/>
<rect x="343.50" y="107.00" width="3.0" height="3.0" fill="#c8102e"/>
<rect x="346.00" y="107.50" width="3.0" height="3.0" fill="#c8102e"/>
<rect x="339.00" y="107.80" width="3.0" height="3.0" fill="#c8102e"/>
<rect x="342.00" y="107.80" width="3.0" height="3.0" fill="#c8102e"/>
<rect x="344.00" y="105.00" width="3.0" height="3.0" fill="#c8102e"/>
<rect x="355.80" y="64.30" width="3.0" height="3.0" fill="#c8102e"/>
<rect x="355.70" y="79.00" width="3.0" height="3.0" fill="#c8102e"/>
<rect x="355.70" y="82.30" width="3.0" height="3.0" fill="#c8102e"/>
<rect x="352.30" y="86.50" width="3.0" height="3.0" fill="#c8102e"/>
<rect x="359.00" y="87.00" width="3.0" height="3.0" fill="#c8102e"/>
<rect x="352.50" y="90.00" width="3.0" height="3.0" fill="#c8102e"/>
<rect x="359.00" y="91.50" width="3.0" height="3.0" fill="#c8102e"/>
<rect x="356.00" y="91.50" width="3.0" height="3.0" fill="#c8102e"/>
<rect x="353.00" y="94.00" width="3.0" height="3.0" fill="#c8102e"/>
<rect x="358.00" y="94.50" width="3.0" height="3.0" fill="#c8102e"/>
<line x1="357.30" y1="78.50" x2="357.30" y2="96.40" stroke="#111" stroke-width="0.9"/>
<line x1="354.80" y1="78.50" x2="359.80" y2="78.50" stroke="#111" stroke-width="1.0"/>
<line x1="354.80" y1="96.40" x2="359.80" y2="96.40" stroke="#111" stroke-width="1.0"/>
<polygon points="381.30,101.60 383.40,103.70 381.30,105.80 379.20,103.70" fill="#14508c"/>
<polygon points="383.00,103.70 385.10,105.80 383.00,107.90 380.90,105.80" fill="#14508c"/>
<polygon points="376.20,104.20 378.30,106.30 376.20,108.40 374.10,106.30" fill="#14508c"/>
<polygon points="378.50,104.40 380.60,106.50 378.50,108.60 376.40,106.50" fill="#14508c"/>
<polygon points="380.80,104.90 382.90,107.00 380.80,109.10 378.70,107.00" fill="#14508c"/>
<polygon points="383.50,106.20 385.60,108.30 383.50,110.40 381.40,108.30" fill="#14508c"/>
<polygon points="376.00,106.40 378.10,108.50 376.00,110.60 373.90,108.50" fill="#14508c"/>
<polygon points="378.50,106.70 380.60,108.80 378.50,110.90 376.40,108.80" fill="#14508c"/>
<polygon points="381.00,106.70 383.10,108.80 381.00,110.90 378.90,108.80" fill="#14508c"/>
<polygon points="384.20,105.40 386.30,107.50 384.20,109.60 382.10,107.50" fill="#14508c"/>
<polygon points="393.60,60.70 395.70,62.80 393.60,64.90 391.50,62.80" fill="#14508c"/>
<polygon points="393.60,67.50 395.70,69.60 393.60,71.70 391.50,69.60" fill="#14508c"/>
<polygon points="393.20,79.50 395.30,81.60 393.20,83.70 391.10,81.60" fill="#14508c"/>
<polygon points="393.20,83.60 395.30,85.70 393.20,87.80 391.10,85.70" fill="#14508c"/>
<polygon points="390.00,85.90 392.10,88.00 390.00,90.10 387.90,88.00" fill="#14508c"/>
<polygon points="393.60,86.40 395.70,88.50 393.60,90.60 391.50,88.50" fill="#14508c"/>
<polygon points="396.80,85.40 398.90,87.50 396.80,89.60 394.70,87.50" fill="#14508c"/>
<polygon points="393.60,88.40 395.70,90.50 393.60,92.60 391.50,90.50" fill="#14508c"/>
<polygon points="389.50,89.50 391.60,91.60 389.50,93.70 387.40,91.60" fill="#14508c"/>
<polygon points="397.30,89.70 399.40,91.80 397.30,93.90 395.20,91.80" fill="#14508c"/>
<polygon points="393.60,91.40 395.70,93.50 393.60,95.60 391.50,93.50" fill="#14508c"/>
<line x1="393.60" y1="74.40" x2="393.60" y2="95.50" stroke="#111" stroke-width="0.9"/>
<line x1="391.10" y1="74.40" x2="396.10" y2="74.40" stroke="#111" stroke-width="1.0"/>
<line x1="391.10" y1="95.50" x2="396.10" y2="95.50" stroke="#111" stroke-width="1.0"/>
<line x1="334.50" y1="47.30" x2="334.50" y2="113.60" stroke="#111" stroke-width="1.2"/>
<line x1="333.90" y1="113.00" x2="402.50" y2="113.00" stroke="#111" stroke-width="1.2"/>
<line x1="343.70" y1="113.00" x2="343.70" y2="116.30" stroke="#231f20" stroke-width="1.0"/>
<line x1="357.30" y1="113.00" x2="357.30" y2="116.30" stroke="#231f20" stroke-width="1.0"/>
<line x1="380.00" y1="113.00" x2="380.00" y2="116.30" stroke="#231f20" stroke-width="1.0"/>
<line x1="393.60" y1="113.00" x2="393.60" y2="116.30" stroke="#231f20" stroke-width="1.0"/>
<line x1="339.90" y1="59.30" x2="360.80" y2="59.30" stroke="#231f20" stroke-width="1.1"/>
<polygon points="346.50,54.70 346.97,55.65 348.02,55.81 347.26,56.55 347.44,57.59 346.50,57.10 345.56,57.59 345.74,56.55 344.98,55.81 346.03,55.65" fill="#231f20" stroke="#231f20" stroke-width="0.35" stroke-linejoin="round"/>
<polygon points="350.35,54.70 350.82,55.65 351.87,55.81 351.11,56.55 351.29,57.59 350.35,57.10 349.41,57.59 349.59,56.55 348.83,55.81 349.88,55.65" fill="#231f20" stroke="#231f20" stroke-width="0.35" stroke-linejoin="round"/>
<polygon points="354.20,54.70 354.67,55.65 355.72,55.81 354.96,56.55 355.14,57.59 354.20,57.10 353.26,57.59 353.44,56.55 352.68,55.81 353.73,55.65" fill="#231f20" stroke="#231f20" stroke-width="0.35" stroke-linejoin="round"/>
<line x1="354.60" y1="51.40" x2="398.60" y2="51.40" stroke="#231f20" stroke-width="1.1"/>
<text x="376.20" y="49.30" font-size="7.4" fill="#231f20" text-anchor="middle" textLength="10.0" lengthAdjust="spacingAndGlyphs">NS</text>
<text transform="translate(313.7,82.45) rotate(-90)" font-size="8.6" fill="#231f20" text-anchor="middle" textLength="11.9" lengthAdjust="spacingAndGlyphs">MFI</text>
<text x="300.80" y="125.90" font-size="8.4" fill="#231f20" textLength="33.3" lengthAdjust="spacingAndGlyphs">Thrombin</text>
<text x="343.70" y="125.80" font-size="7.6" fill="#231f20" text-anchor="middle">–</text>
<text x="357.30" y="125.80" font-size="7.6" fill="#231f20" text-anchor="middle">+</text>
<text x="380.00" y="125.80" font-size="7.6" fill="#231f20" text-anchor="middle">–</text>
<text x="393.60" y="125.80" font-size="7.6" fill="#231f20" text-anchor="middle">+</text>
<rect x="451.25" y="106.30" width="8.7" height="6.00" fill="#e0849a"/>
<rect x="464.55" y="77.00" width="8.7" height="35.30" fill="#e0849a"/>
<rect x="486.95" y="106.30" width="8.7" height="6.00" fill="#86a5c5"/>
<rect x="500.25" y="74.00" width="8.7" height="38.30" fill="#86a5c5"/>
<line x1="443.60" y1="112.30" x2="447.00" y2="112.30" stroke="#231f20" stroke-width="1.0"/>
<text x="440.80" y="115.30" font-size="8.4" fill="#231f20" text-anchor="end" textLength="4.2" lengthAdjust="spacingAndGlyphs">0</text>
<line x1="443.60" y1="100.30" x2="447.00" y2="100.30" stroke="#231f20" stroke-width="1.0"/>
<text x="440.80" y="103.30" font-size="8.4" fill="#231f20" text-anchor="end" textLength="4.2" lengthAdjust="spacingAndGlyphs">4</text>
<line x1="443.60" y1="88.30" x2="447.00" y2="88.30" stroke="#231f20" stroke-width="1.0"/>
<text x="440.80" y="91.30" font-size="8.4" fill="#231f20" text-anchor="end" textLength="4.2" lengthAdjust="spacingAndGlyphs">8</text>
<line x1="443.60" y1="76.30" x2="447.00" y2="76.30" stroke="#231f20" stroke-width="1.0"/>
<text x="440.80" y="79.30" font-size="8.4" fill="#231f20" text-anchor="end" textLength="8.41" lengthAdjust="spacingAndGlyphs">12</text>
<line x1="443.60" y1="64.30" x2="447.00" y2="64.30" stroke="#231f20" stroke-width="1.0"/>
<text x="440.80" y="67.30" font-size="8.4" fill="#231f20" text-anchor="end" textLength="8.41" lengthAdjust="spacingAndGlyphs">16</text>
<line x1="443.60" y1="52.30" x2="447.00" y2="52.30" stroke="#231f20" stroke-width="1.0"/>
<text x="440.80" y="55.30" font-size="8.4" fill="#231f20" text-anchor="end" textLength="8.41" lengthAdjust="spacingAndGlyphs">20</text>
<rect x="451.00" y="102.30" width="3.0" height="3.0" fill="#c8102e"/>
<rect x="451.00" y="105.30" width="3.0" height="3.0" fill="#c8102e"/>
<rect x="452.80" y="104.00" width="3.0" height="3.0" fill="#c8102e"/>
<rect x="455.00" y="100.30" width="3.0" height="3.0" fill="#c8102e"/>
<rect x="455.00" y="103.30" width="3.0" height="3.0" fill="#c8102e"/>
<rect x="455.00" y="105.50" width="3.0" height="3.0" fill="#c8102e"/>
<rect x="457.20" y="104.30" width="3.0" height="3.0" fill="#c8102e"/>
<rect x="457.20" y="105.70" width="3.0" height="3.0" fill="#c8102e"/>
<rect x="453.00" y="105.70" width="3.0" height="3.0" fill="#c8102e"/>
<rect x="467.30" y="61.30" width="3.0" height="3.0" fill="#c8102e"/>
<rect x="467.30" y="67.70" width="3.0" height="3.0" fill="#c8102e"/>
<rect x="467.30" y="73.00" width="3.0" height="3.0" fill="#c8102e"/>
<rect x="471.00" y="75.10" width="3.0" height="3.0" fill="#c8102e"/>
<rect x="464.00" y="78.00" width="3.0" height="3.0" fill="#c8102e"/>
<rect x="470.80" y="76.10" width="3.0" height="3.0" fill="#c8102e"/>
<rect x="465.70" y="82.50" width="3.0" height="3.0" fill="#c8102e"/>
<rect x="469.00" y="84.50" width="3.0" height="3.0" fill="#c8102e"/>
<rect x="467.00" y="88.00" width="3.0" height="3.0" fill="#c8102e"/>
<rect x="469.00" y="79.00" width="3.0" height="3.0" fill="#c8102e"/>
<line x1="468.90" y1="70.40" x2="468.90" y2="84.00" stroke="#111" stroke-width="0.9"/>
<line x1="466.40" y1="70.40" x2="471.40" y2="70.40" stroke="#111" stroke-width="1.0"/>
<line x1="466.40" y1="84.00" x2="471.40" y2="84.00" stroke="#111" stroke-width="1.0"/>
<polygon points="490.30,100.10 492.40,102.20 490.30,104.30 488.20,102.20" fill="#14508c"/>
<polygon points="488.50,102.40 490.60,104.50 488.50,106.60 486.40,104.50" fill="#14508c"/>
<polygon points="492.50,102.40 494.60,104.50 492.50,106.60 490.40,104.50" fill="#14508c"/>
<polygon points="494.50,103.90 496.60,106.00 494.50,108.10 492.40,106.00" fill="#14508c"/>
<polygon points="488.00,104.90 490.10,107.00 488.00,109.10 485.90,107.00" fill="#14508c"/>
<polygon points="490.50,104.90 492.60,107.00 490.50,109.10 488.40,107.00" fill="#14508c"/>
<polygon points="492.50,105.40 494.60,107.50 492.50,109.60 490.40,107.50" fill="#14508c"/>
<polygon points="488.80,105.90 490.90,108.00 488.80,110.10 486.70,108.00" fill="#14508c"/>
<polygon points="487.60,103.70 489.70,105.80 487.60,107.90 485.50,105.80" fill="#14508c"/>
<polygon points="500.80,62.20 502.90,64.30 500.80,66.40 498.70,64.30" fill="#14508c"/>
<polygon points="504.60,64.10 506.70,66.20 504.60,68.30 502.50,66.20" fill="#14508c"/>
<polygon points="500.80,67.30 502.90,69.40 500.80,71.50 498.70,69.40" fill="#14508c"/>
<polygon points="502.00,69.30 504.10,71.40 502.00,73.50 499.90,71.40" fill="#14508c"/>
<polygon points="504.60,68.40 506.70,70.50 504.60,72.60 502.50,70.50" fill="#14508c"/>
<polygon points="508.30,68.90 510.40,71.00 508.30,73.10 506.20,71.00" fill="#14508c"/>
<polygon points="504.60,74.40 506.70,76.50 504.60,78.60 502.50,76.50" fill="#14508c"/>
<polygon points="504.60,77.90 506.70,80.00 504.60,82.10 502.50,80.00" fill="#14508c"/>
<polygon points="506.30,82.40 508.40,84.50 506.30,86.60 504.20,84.50" fill="#14508c"/>
<polygon points="502.40,84.10 504.50,86.20 502.40,88.30 500.30,86.20" fill="#14508c"/>
<line x1="504.60" y1="66.20" x2="504.60" y2="81.50" stroke="#111" stroke-width="0.9"/>
<line x1="502.10" y1="66.20" x2="507.10" y2="66.20" stroke="#111" stroke-width="1.0"/>
<line x1="502.10" y1="81.50" x2="507.10" y2="81.50" stroke="#111" stroke-width="1.0"/>
<line x1="447.00" y1="48.40" x2="447.00" y2="112.90" stroke="#111" stroke-width="1.2"/>
<line x1="446.40" y1="112.30" x2="512.30" y2="112.30" stroke="#111" stroke-width="1.2"/>
<line x1="455.60" y1="112.30" x2="455.60" y2="115.30" stroke="#231f20" stroke-width="1.0"/>
<line x1="468.90" y1="112.30" x2="468.90" y2="115.30" stroke="#231f20" stroke-width="1.0"/>
<line x1="491.30" y1="112.30" x2="491.30" y2="115.30" stroke="#231f20" stroke-width="1.0"/>
<line x1="504.60" y1="112.30" x2="504.60" y2="115.30" stroke="#231f20" stroke-width="1.0"/>
<line x1="451.00" y1="59.50" x2="472.80" y2="59.50" stroke="#231f20" stroke-width="1.1"/>
<polygon points="458.15,54.70 458.62,55.65 459.67,55.81 458.91,56.55 459.09,57.59 458.15,57.10 457.21,57.59 457.39,56.55 456.63,55.81 457.68,55.65" fill="#231f20" stroke="#231f20" stroke-width="0.35" stroke-linejoin="round"/>
<polygon points="462.00,54.70 462.47,55.65 463.52,55.81 462.76,56.55 462.94,57.59 462.00,57.10 461.06,57.59 461.24,56.55 460.48,55.81 461.53,55.65" fill="#231f20" stroke="#231f20" stroke-width="0.35" stroke-linejoin="round"/>
<polygon points="465.85,54.70 466.32,55.65 467.37,55.81 466.61,56.55 466.79,57.59 465.85,57.10 464.91,57.59 465.09,56.55 464.33,55.81 465.38,55.65" fill="#231f20" stroke="#231f20" stroke-width="0.35" stroke-linejoin="round"/>
<line x1="465.20" y1="51.30" x2="509.20" y2="51.30" stroke="#231f20" stroke-width="1.1"/>
<text x="487.30" y="49.20" font-size="7.4" fill="#231f20" text-anchor="middle" textLength="10.0" lengthAdjust="spacingAndGlyphs">NS</text>
<text transform="translate(426.8,82.05) rotate(-90)" font-size="8.6" fill="#231f20" text-anchor="middle" textLength="11.9" lengthAdjust="spacingAndGlyphs">MFI</text>
<text x="455.60" y="125.80" font-size="7.6" fill="#231f20" text-anchor="middle">–</text>
<text x="468.90" y="125.80" font-size="7.6" fill="#231f20" text-anchor="middle">+</text>
<text x="491.30" y="125.80" font-size="7.6" fill="#231f20" text-anchor="middle">–</text>
<text x="504.60" y="125.80" font-size="7.6" fill="#231f20" text-anchor="middle">+</text>
<rect x="328.20" y="148.40" width="3.2" height="3.2" fill="#c8102e"/>
<text x="335.0" y="152.7" font-size="7.2" fill="#231f20" textLength="24" lengthAdjust="spacingAndGlyphs" class="lt"><tspan font-style="italic">Tph1</tspan><tspan font-style="italic" font-size="5.8" dy="-3.0">fl/fl</tspan></text>
<polygon points="371.70,148.10 373.80,150.20 371.70,152.30 369.60,150.20" fill="#14508c"/>
<text x="377.0" y="152.6" font-size="7.2" fill="#231f20" textLength="43.4" lengthAdjust="spacingAndGlyphs" class="lt"><tspan font-style="italic">Vil1</tspan><tspan font-style="italic" font-size="5.8" dy="-3.0">cre</tspan><tspan font-style="italic" dy="3.0">Tph1</tspan><tspan font-style="italic" font-size="5.8" dy="-3.0">fl/fl</tspan></text>
<rect x="337.90" y="208.00" width="13.0" height="30.30" fill="#e0849a"/>
<rect x="357.90" y="215.70" width="13.0" height="22.60" fill="#e0849a"/>
<rect x="378.20" y="197.20" width="12.6" height="41.10" fill="#86a5c5"/>
<rect x="398.20" y="197.00" width="12.6" height="41.30" fill="#86a5c5"/>
<line x1="331.00" y1="228.80" x2="334.40" y2="228.80" stroke="#231f20" stroke-width="1.0"/>
<text x="328.20" y="231.80" font-size="8.4" fill="#231f20" text-anchor="end" textLength="12.61" lengthAdjust="spacingAndGlyphs">200</text>
<line x1="331.00" y1="198.80" x2="334.40" y2="198.80" stroke="#231f20" stroke-width="1.0"/>
<text x="328.20" y="201.80" font-size="8.4" fill="#231f20" text-anchor="end" textLength="12.61" lengthAdjust="spacingAndGlyphs">500</text>
<line x1="331.00" y1="168.80" x2="334.40" y2="168.80" stroke="#231f20" stroke-width="1.0"/>
<text x="328.20" y="171.80" font-size="8.4" fill="#231f20" text-anchor="end" textLength="12.61" lengthAdjust="spacingAndGlyphs">800</text>
<rect x="337.60" y="195.90" width="3.0" height="3.0" fill="#c8102e"/>
<rect x="337.60" y="199.70" width="3.0" height="3.0" fill="#c8102e"/>
<rect x="342.90" y="198.50" width="3.0" height="3.0" fill="#c8102e"/>
<rect x="348.10" y="197.20" width="3.0" height="3.0" fill="#c8102e"/>
<rect x="337.60" y="206.10" width="3.0" height="3.0" fill="#c8102e"/>
<rect x="337.60" y="209.50" width="3.0" height="3.0" fill="#c8102e"/>
<rect x="342.90" y="207.50" width="3.0" height="3.0" fill="#c8102e"/>
<rect x="342.90" y="213.10" width="3.0" height="3.0" fill="#c8102e"/>
<rect x="348.10" y="211.90" width="3.0" height="3.0" fill="#c8102e"/>
<rect x="342.90" y="221.60" width="3.0" height="3.0" fill="#c8102e"/>
<rect x="363.00" y="203.50" width="3.0" height="3.0" fill="#c8102e"/>
<rect x="357.50" y="215.50" width="3.0" height="3.0" fill="#c8102e"/>
<rect x="361.00" y="214.10" width="3.0" height="3.0" fill="#c8102e"/>
<rect x="363.50" y="216.00" width="3.0" height="3.0" fill="#c8102e"/>
<rect x="368.00" y="214.10" width="3.0" height="3.0" fill="#c8102e"/>
<rect x="367.20" y="217.10" width="3.0" height="3.0" fill="#c8102e"/>
<rect x="361.50" y="218.70" width="3.0" height="3.0" fill="#c8102e"/>
<rect x="365.00" y="217.60" width="3.0" height="3.0" fill="#c8102e"/>
<rect x="358.80" y="222.30" width="3.0" height="3.0" fill="#c8102e"/>
<rect x="362.80" y="222.30" width="3.0" height="3.0" fill="#c8102e"/>
<rect x="366.70" y="222.30" width="3.0" height="3.0" fill="#c8102e"/>
<rect x="360.8" y="217.4" width="3.0" height="1.2" fill="#fff" opacity="0.85"/>
<line x1="344.40" y1="204.90" x2="344.40" y2="210.50" stroke="#111" stroke-width="0.9"/>
<line x1="340.90" y1="204.90" x2="347.90" y2="204.90" stroke="#111" stroke-width="1.0"/>
<line x1="340.90" y1="210.50" x2="347.90" y2="210.50" stroke="#111" stroke-width="1.0"/>
<polygon points="384.40,181.70 386.50,183.80 384.40,185.90 382.30,183.80" fill="#14508c"/>
<polygon points="384.40,185.80 386.50,187.90 384.40,190.00 382.30,187.90" fill="#14508c"/>
<polygon points="381.60,189.40 383.70,191.50 381.60,193.60 379.50,191.50" fill="#14508c"/>
<polygon points="387.40,189.40 389.50,191.50 387.40,193.60 385.30,191.50" fill="#14508c"/>
<polygon points="381.60,194.20 383.70,196.30 381.60,198.40 379.50,196.30" fill="#14508c"/>
<polygon points="387.40,192.90 389.50,195.00 387.40,197.10 385.30,195.00" fill="#14508c"/>
<polygon points="381.60,200.50 383.70,202.60 381.60,204.70 379.50,202.60" fill="#14508c"/>
<polygon points="387.40,198.20 389.50,200.30 387.40,202.40 385.30,200.30" fill="#14508c"/>
<polygon points="384.40,205.50 386.50,207.60 384.40,209.70 382.30,207.60" fill="#14508c"/>
<polygon points="384.40,213.40 386.50,215.50 384.40,217.60 382.30,215.50" fill="#14508c"/>
<polygon points="404.60,179.60 406.70,181.70 404.60,183.80 402.50,181.70" fill="#14508c"/>
<polygon points="401.70,186.10 403.80,188.20 401.70,190.30 399.60,188.20" fill="#14508c"/>
<polygon points="407.10,185.80 409.20,187.90 407.10,190.00 405.00,187.90" fill="#14508c"/>
<polygon points="399.00,191.60 401.10,193.70 399.00,195.80 396.90,193.70" fill="#14508c"/>
<polygon points="404.60,191.60 406.70,193.70 404.60,195.80 402.50,193.70" fill="#14508c"/>
<polygon points="409.60,193.90 411.70,196.00 409.60,198.10 407.50,196.00" fill="#14508c"/>
<polygon points="404.60,198.70 406.70,200.80 404.60,202.90 402.50,200.80" fill="#14508c"/>
<polygon points="404.60,208.60 406.70,210.70 404.60,212.80 402.50,210.70" fill="#14508c"/>
<polygon points="404.60,213.20 406.70,215.30 404.60,217.40 402.50,215.30" fill="#14508c"/>
<line x1="384.40" y1="194.20" x2="384.40" y2="200.20" stroke="#111" stroke-width="0.9"/>
<line x1="381.15" y1="194.20" x2="387.65" y2="194.20" stroke="#111" stroke-width="1.0"/>
<line x1="381.15" y1="200.20" x2="387.65" y2="200.20" stroke="#111" stroke-width="1.0"/>
<line x1="404.50" y1="193.10" x2="404.50" y2="199.50" stroke="#111" stroke-width="0.9"/>
<line x1="401.00" y1="193.10" x2="408.00" y2="193.10" stroke="#111" stroke-width="1.0"/>
<line x1="401.00" y1="199.50" x2="408.00" y2="199.50" stroke="#111" stroke-width="1.0"/>
<line x1="334.40" y1="165.10" x2="334.40" y2="238.90" stroke="#111" stroke-width="1.3"/>
<line x1="333.80" y1="238.30" x2="414.50" y2="238.30" stroke="#111" stroke-width="1.3"/>
<line x1="344.40" y1="238.30" x2="344.40" y2="241.80" stroke="#231f20" stroke-width="1.0"/>
<line x1="364.40" y1="238.30" x2="364.40" y2="241.80" stroke="#231f20" stroke-width="1.0"/>
<line x1="384.50" y1="238.30" x2="384.50" y2="241.80" stroke="#231f20" stroke-width="1.0"/>
<line x1="404.50" y1="238.30" x2="404.50" y2="241.80" stroke="#231f20" stroke-width="1.0"/>
<line x1="338.50" y1="165.80" x2="389.30" y2="165.80" stroke="#231f20" stroke-width="1.1"/>
<polygon points="362.38,161.00 362.85,161.95 363.90,162.11 363.14,162.85 363.32,163.89 362.38,163.40 361.43,163.89 361.61,162.85 360.85,162.11 361.90,161.95" fill="#231f20" stroke="#231f20" stroke-width="0.35" stroke-linejoin="round"/>
<polygon points="366.23,161.00 366.70,161.95 367.75,162.11 366.99,162.85 367.17,163.89 366.23,163.40 365.28,163.89 365.46,162.85 364.70,162.11 365.75,161.95" fill="#231f20" stroke="#231f20" stroke-width="0.35" stroke-linejoin="round"/>
<line x1="337.50" y1="190.60" x2="368.00" y2="190.60" stroke="#231f20" stroke-width="1.1"/>
<polygon points="350.68,185.80 351.15,186.75 352.20,186.91 351.44,187.65 351.62,188.69 350.68,188.20 349.73,188.69 349.91,187.65 349.15,186.91 350.20,186.75" fill="#231f20" stroke="#231f20" stroke-width="0.35" stroke-linejoin="round"/>
<polygon points="354.53,185.80 355.00,186.75 356.05,186.91 355.29,187.65 355.47,188.69 354.53,188.20 353.58,188.69 353.76,187.65 353.00,186.91 354.05,186.75" fill="#231f20" stroke="#231f20" stroke-width="0.35" stroke-linejoin="round"/>
<line x1="379.00" y1="178.30" x2="408.70" y2="178.30" stroke="#231f20" stroke-width="1.1"/>
<text x="393.80" y="176.40" font-size="7.4" fill="#231f20" text-anchor="middle" textLength="10.0" lengthAdjust="spacingAndGlyphs">NS</text>
<text transform="translate(306.6,200.9) rotate(-90)" font-size="8.4" fill="#231f20" text-anchor="middle" textLength="41" lengthAdjust="spacingAndGlyphs">Bleeding (S)</text>
<text x="309.50" y="251.60" font-size="9.2" fill="#231f20" class="lt">I</text>
<text x="311.90" y="251.60" font-size="9.2" fill="#231f20" class="lt" textLength="14.8" lengthAdjust="spacingAndGlyphs">L-33</text>
<text x="344.40" y="251.20" font-size="7.6" fill="#231f20" text-anchor="middle">–</text>
<text x="364.40" y="251.20" font-size="7.6" fill="#231f20" text-anchor="middle">+</text>
<text x="384.50" y="251.20" font-size="7.6" fill="#231f20" text-anchor="middle">–</text>
<text x="404.50" y="251.20" font-size="7.6" fill="#231f20" text-anchor="middle">+</text>
</svg></body></html>
